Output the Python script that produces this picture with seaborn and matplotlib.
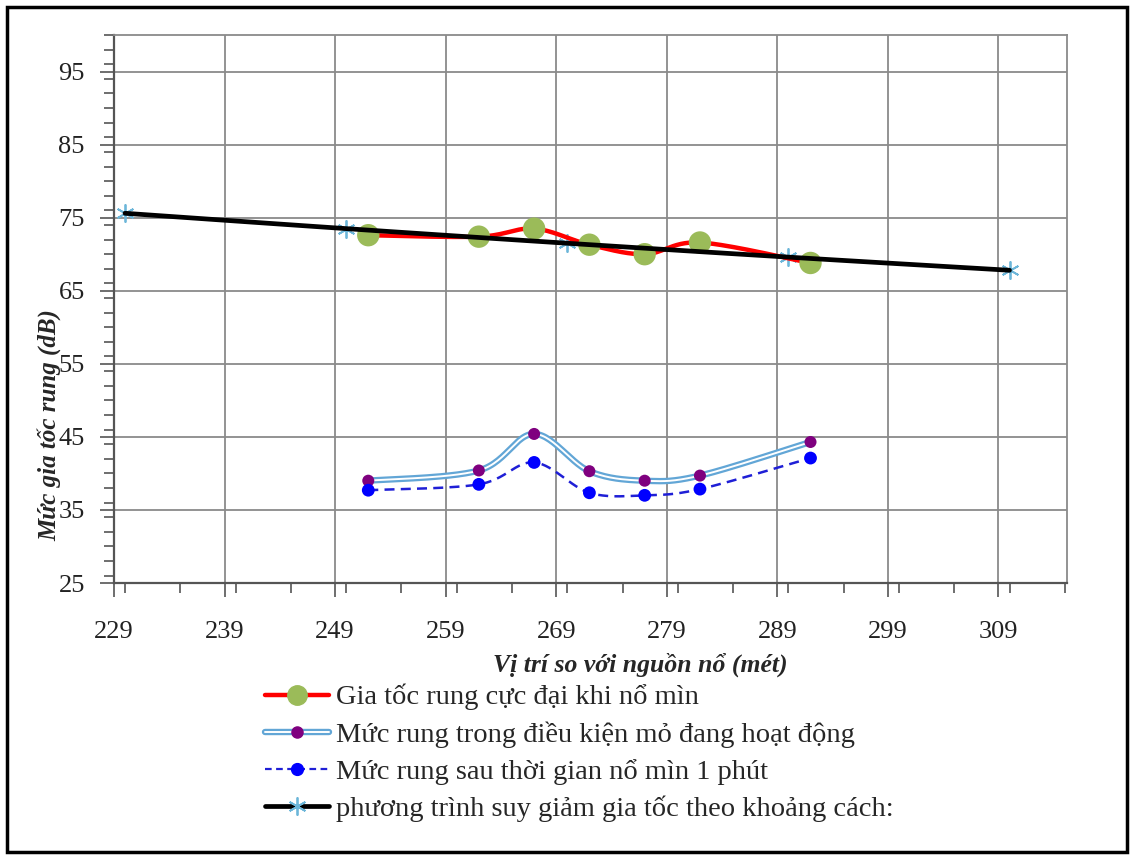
import numpy as np
import pandas as pd
import seaborn as sns
import matplotlib.pyplot as plt
from matplotlib.lines import Line2D
from matplotlib.patches import Rectangle
from matplotlib.ticker import MultipleLocator

# --- data ---
pos = [252, 262, 267, 272, 277, 282, 292]
peak_blast = [72.6, 72.4, 73.5, 71.3, 70.0, 71.6, 68.8]
mine_working = [39.0, 40.4, 45.4, 40.3, 39.0, 39.7, 44.3]
after_1min = [37.7, 38.5, 41.5, 37.35, 37.0, 37.85, 42.1]

eq_pos = [230, 250, 270, 290, 310]
eq_val = [75.6, 73.5, 71.5, 69.6, 67.8]

labels = [
    "Gia tốc rung cực đại khi nổ mìn",
    "Mức rung trong điều kiện mỏ đang hoạt động",
    "Mức rung sau thời gian nổ mìn 1 phút",
    "phương trình suy giảm gia tốc theo khoảng cách:",
]
x_ticks = list(range(229, 310, 10))
y_ticks = list(range(25, 96, 10))


def smooth(xs, ys, n=30):
    # excel style smoothed line (catmull-rom bezier through the points)
    p = np.column_stack([xs, ys]).astype(float)
    p = np.vstack([p[0], p, p[-1]])
    out = []
    t = np.linspace(0, 1, n)[:, None]
    for i in range(1, len(p) - 2):
        p0, p1, p2, p3 = p[i - 1], p[i], p[i + 1], p[i + 2]
        c1 = p1 + (p2 - p0) / 6
        c2 = p2 - (p3 - p1) / 6
        seg = ((1 - t) ** 3) * p1 + 3 * ((1 - t) ** 2) * t * c1 + 3 * (1 - t) * t ** 2 * c2 + t ** 3 * p2
        out.append(seg)
    out = np.vstack(out)
    return pd.DataFrame({"x": out[:, 0], "y": out[:, 1]})


sns.set_theme(style="white")
plt.rcParams["font.family"] = ["Liberation Serif", "DejaVu Serif"]

fig = plt.figure(figsize=(11.32, 8.56), dpi=100)
ax = fig.add_axes([114 / 1132, 1 - 583 / 856, (1067 - 114) / 1132, (583 - 35) / 856])

RED = "#ff0000"
GREEN = "#9bbb59"
LBLUE = "#62a6d6"
PURPLE = "#7f007f"
BLUE = "#0000ff"
DASH = "#1f1fd6"
STAR = "#6cb6d9"

# double line for mine working level
s = smooth(pos, mine_working)
sns.lineplot(data=s, x="x", y="y", sort=False, ax=ax, color=LBLUE, lw=4.6, zorder=3)
sns.lineplot(data=s, x="x", y="y", sort=False, ax=ax, color="white", lw=1.4, zorder=3)
sns.scatterplot(x=pos, y=mine_working, ax=ax, color=PURPLE, s=75, edgecolor="none", zorder=4)

# after 1 minute, dashed
s = smooth(pos, after_1min)
sns.lineplot(data=s, x="x", y="y", sort=False, ax=ax, color=DASH, lw=1.8, zorder=3)
ax.lines[-1].set_dashes([4, 2.5])
sns.scatterplot(x=pos, y=after_1min, ax=ax, color=BLUE, s=85, edgecolor="none", zorder=4)

# peak blast acceleration
s = smooth(pos, peak_blast)
sns.lineplot(data=s, x="x", y="y", sort=False, ax=ax, color=RED, lw=3.2, zorder=3)
sns.scatterplot(x=pos, y=peak_blast, ax=ax, color=GREEN, s=260, edgecolor="none", zorder=4)

# attenuation equation
s = smooth(eq_pos, eq_val)
sns.lineplot(data=s, x="x", y="y", sort=False, ax=ax, color="black", lw=3.4, zorder=5)
ax.plot(eq_pos, eq_val, ls="none", marker=(6, 2, 0), ms=13, mew=1.3, color=STAR, zorder=2)

ax.set_xlim(229, 315.2)
ax.set_ylim(25, 100)
ax.set_xticks(x_ticks)
ax.set_yticks(y_ticks)
ax.xaxis.set_minor_locator(MultipleLocator(5))
ax.yaxis.set_minor_locator(MultipleLocator(2))
ax.grid(True, which="major", color="#8a8a8a", lw=1.3)
ax.tick_params(axis="both", which="major", direction="out", length=10, width=1.2,
               color="#555555", labelsize=19, colors="#222222")
ax.tick_params(axis="both", which="minor", direction="out", length=7, width=1.2, color="#555555")
ax.tick_params(axis="x", which="major", pad=17)
ax.tick_params(axis="y", which="major", pad=11)
ax.tick_params(axis="both", which="both", bottom=True, left=True)
for side in ["top", "right"]:
    ax.spines[side].set_color("#8a8a8a")
    ax.spines[side].set_linewidth(1.3)
for side in ["left", "bottom"]:
    ax.spines[side].set_color("#555555")
    ax.spines[side].set_linewidth(1.6)
ax.set_xlabel("")
ax.set_ylabel("")

fig.text(640 / 1132, 1 - 665 / 856, "Vị trí so với nguồn nổ (mét)", ha="center", va="center",
         fontsize=18.5, fontweight="bold", fontstyle="italic")
fig.text(49 / 1132, 1 - 425 / 856, "Mức gia tốc rung (dB)", ha="center", va="center",
         rotation=90, fontsize=18, fontweight="bold", fontstyle="italic")

h_peak = Line2D([], [], color=RED, lw=3.2, marker="o", ms=14, mfc=GREEN, mec=GREEN)
h_mine = (Line2D([], [], color=LBLUE, lw=4.6),
          Line2D([], [], color="white", lw=1.4),
          Line2D([], [], ls="none", marker="o", ms=8, mfc=PURPLE, mec=PURPLE))
h_after = Line2D([], [], color=DASH, lw=1.6, ls=(0, (3, 2)), marker="o", ms=8.5, mfc=BLUE, mec=BLUE)
h_eq = Line2D([], [], color="black", lw=3.4, marker=(6, 2, 0), ms=13, mew=1.3, mec=STAR)

leg = fig.legend([h_peak, h_mine, h_after, h_eq], labels, loc="upper left",
                 bbox_to_anchor=(265 / 1132, 1 - 684 / 856),
                 frameon=False, fontsize=20.5, handlelength=2.25, handletextpad=0.25,
                 labelspacing=0.38, borderpad=0, borderaxespad=0)

fig.add_artist(Rectangle((7 / 1132, 4 / 856), 1120 / 1132, 845 / 856, transform=fig.transFigure,
                         fill=False, ec="black", lw=2.5))

fig.savefig("out.png", dpi=100)
